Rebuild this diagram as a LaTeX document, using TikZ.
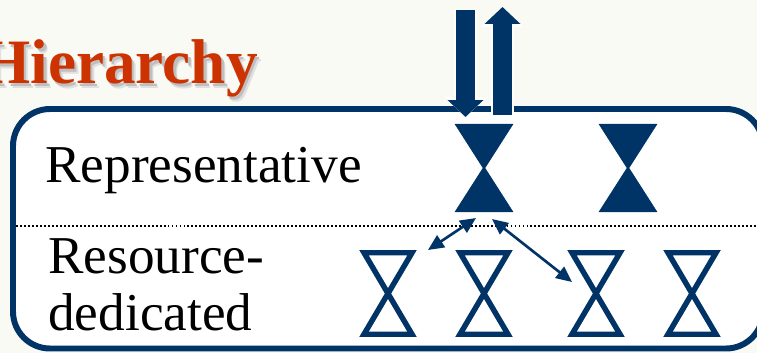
\documentclass[tikz,border=0pt]{standalone}
\usepackage{fontspec}
\setmainfont{Liberation Serif}
\usetikzlibrary{arrows.meta}
\definecolor{navy}{HTML}{003366}
\definecolor{rust}{HTML}{CC3300}
\definecolor{cream}{HTML}{FAFAF4}
\tikzset{
  label/.style={anchor=base west,inner sep=0pt,font=\fontsize{30.3}{36}\selectfont},
  title/.style={anchor=base east,inner sep=0pt,font=\fontsize{36}{42}\selectfont\bfseries},
  full/.style={fill=navy,draw=navy,line width=1.2pt},
  hollow/.style={draw=navy,line width=3.1pt,miter limit=10},
  bigarrow/.style={navy,line width=10.8pt,-{Triangle[length=9.6pt,width=19.8pt]}},
  bighalo/.style={white,line width=13pt,-{Triangle[length=11.5pt,width=23.5pt]}},
  smallarrow/.style={navy,line width=1.5pt,{Triangle[length=9pt,width=8pt]}-{Triangle[length=9pt,width=8pt]}}
}
\begin{document}
\begin{tikzpicture}[x=0.02cm,y=-0.02cm]
\useasboundingbox (0,0) rectangle (757,353);
\clip (0,0) rectangle (757,353);
\fill [cream] (0,0) rectangle (757,353);
% title with its shadow
\node [title,black!12] (titleshadow) at (262,88) {Hierarchy};
\node [title,black!25] (titleshadowb) at (260.5,86) {Hierarchy};
\node [title,rust] (title) at (258,83) {Hierarchy};
% the rounded box
\draw [navy,fill=white,line width=3.4pt,rounded corners=0.74cm] (13,109) rectangle (763,348.5);
\draw [black,line width=1.1pt,dash pattern=on 1.1pt off 1.17pt] (16,226) -- (757,226);
\node [label] (rep) at (45,182) {Representative};
\node [label] (res) at (48,273) {Resource-};
\node [label] (ded) at (48,330) {dedicated};
% hourglasses
\coordinate (repa) at (484,168);
\coordinate (repb) at (628,168);
\coordinate (deda) at (388,293.5);
\coordinate (dedb) at (484,293.5);
\coordinate (dedc) at (596,293.5);
\coordinate (dedd) at (692,293.5);
\draw [full] (repa) ++(-27.5,-43) -- ++(55,0) -- ++(-55,86) -- ++(55,0) -- cycle;
\draw [full] (repb) ++(-27.5,-43) -- ++(55,0) -- ++(-55,86) -- ++(55,0) -- cycle;
\draw [hollow] (deda) ++(-24,-40.75) -- ++(48,0) -- ++(-48,81.5) -- ++(48,0) -- cycle;
\draw [hollow] (dedb) ++(-24,-40.75) -- ++(48,0) -- ++(-48,81.5) -- ++(48,0) -- cycle;
\draw [hollow] (dedc) ++(-24,-40.75) -- ++(48,0) -- ++(-48,81.5) -- ++(48,0) -- cycle;
\draw [hollow] (dedd) ++(-24,-40.75) -- ++(48,0) -- ++(-48,81.5) -- ++(48,0) -- cycle;
% arrows in and out of the box
\coordinate (downfrom) at (465.5,10);
\coordinate (downto) at (465.5,117);
\coordinate (upfrom) at (502.5,115);
\coordinate (upto) at (502.5,7);
\draw [bighalo] (downfrom) -- (downto);
\draw [bighalo] (upfrom) -- (upto);
\draw [bigarrow] (downfrom) -- (downto);
\draw [bigarrow] (upfrom) -- (upto);
% arrows between the rows
\coordinate (reqleft) at (476,218);
\coordinate (reqright) at (492,219);
\coordinate (ansleft) at (428,250);
\coordinate (ansright) at (572,282);
\draw [smallarrow] (reqleft) -- (ansleft);
\draw [smallarrow] (reqright) -- (ansright);
\end{tikzpicture}
\end{document}
